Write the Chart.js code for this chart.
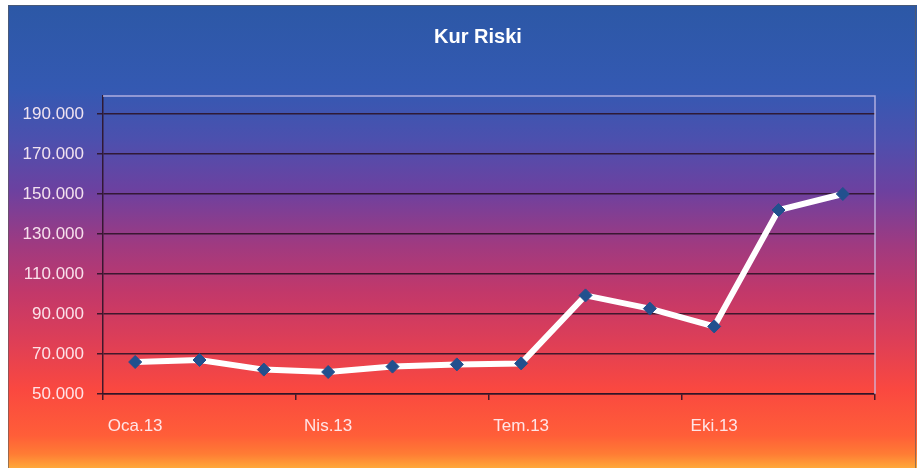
<!DOCTYPE html>
<html>
<head>
<meta charset="utf-8">
<script src="https://cdn.jsdelivr.net/npm/chart.js@4"></script>
<style>
  html, body { margin: 0; padding: 0; background: #fff; }
  #wrap { width: 917px; height: 468px; position: relative; }
</style>
</head>
<body>
<div id="wrap"><canvas id="myChart" width="917" height="468"></canvas></div>
<script>
const months = ['Oca.13', 'Şub.13', 'Mar.13', 'Nis.13', 'May.13', 'Haz.13',
                'Tem.13', 'Ağu.13', 'Eyl.13', 'Eki.13', 'Kas.13', 'Ara.13'];
const kurRiski = [66000, 67000, 62200, 61000, 63700, 64800, 65300, 99300, 92700, 83800, 142000, 150000];
const yTicks = [50000, 70000, 90000, 110000, 130000, 150000, 170000, 190000];

const darkLine = 'rgba(45, 20, 40, 0.9)';

// gradient background + frame + title
const backdrop = {
  id: 'backdrop',
  beforeDraw(chart) {
    const c = chart.ctx;
    c.save();
    c.fillStyle = '#fff';
    c.fillRect(0, 0, chart.width, chart.height);
    const g = c.createLinearGradient(0, 5, 0, 468);
    g.addColorStop(0.00, '#2c58a6');
    g.addColorStop(0.18, '#3459b2');
    g.addColorStop(0.29, '#4c50ae');
    g.addColorStop(0.40, '#6c41a0');
    g.addColorStop(0.52, '#a03a80');
    g.addColorStop(0.62, '#c2386a');
    g.addColorStop(0.72, '#dc3e58');
    g.addColorStop(0.83, '#fa4840');
    g.addColorStop(0.93, '#ff5e38');
    g.addColorStop(0.97, '#ff7c34');
    g.addColorStop(1.00, '#ffa83a');
    c.fillStyle = g;
    c.fillRect(8, 5, 909, 463);
    c.strokeStyle = 'rgba(90, 90, 90, 0.6)';
    c.lineWidth = 1;
    c.strokeRect(8.5, 5.5, 907, 470);
    c.restore();
  },
  beforeDatasetsDraw(chart) {
    const a = chart.chartArea;
    const c = chart.ctx;
    c.save();
    c.strokeStyle = 'rgba(205, 195, 235, 0.8)';
    c.lineWidth = 1.5;
    c.beginPath();
    c.moveTo(a.left, a.top);
    c.lineTo(a.right, a.top);
    c.lineTo(a.right, a.bottom);
    c.stroke();
    c.restore();
  },
  afterDraw(chart) {
    const c = chart.ctx;
    c.save();
    c.fillStyle = '#fff';
    c.font = 'bold 20px "Liberation Sans", Arial, sans-serif';
    c.textAlign = 'center';
    c.textBaseline = 'middle';
    c.fillText('Kur Riski', 478, 37);
    c.restore();
  }
};

const ctx = document.getElementById('myChart').getContext('2d');

let chart = new Chart(ctx, {
  type: 'line',
  data: {
    labels: months,
    datasets: [{
      label: 'Kur Riski',
      data: kurRiski,
      borderColor: '#ffffff',
      borderWidth: 6,
      tension: 0,
      pointStyle: 'rectRot',
      pointRadius: 6.5,
      pointHoverRadius: 6.5,
      pointBackgroundColor: '#22508e',
      pointBorderColor: '#22508e',
      pointBorderWidth: 1
    }]
  },
  options: {
    responsive: false,
    animation: false,
    layout: { padding: { left: 0, top: 96, right: 42, bottom: 0 } },
    plugins: {
      legend: { display: false },
      title: { display: false },
      tooltip: { enabled: false }
    },
    scales: {
      x: {
        offset: true,
        afterFit(s) { s.height = 74; },
        grid: {
          offset: true,
          drawOnChartArea: false,
          drawTicks: true,
          tickLength: 6,
          lineWidth: 1.5,
          tickColor: c => (c.index === undefined || c.index % 3 === 0) ? darkLine : 'rgba(0,0,0,0)'
        },
        border: { display: true, color: darkLine, width: 1.5 },
        ticks: {
          autoSkip: false,
          maxRotation: 0,
          padding: 16,
          color: 'rgba(255, 240, 245, 0.92)',
          font: { family: '"Liberation Sans", Arial, sans-serif', size: 17 },
          callback: function (v, i) { return i % 3 === 0 ? months[i] : ''; }
        }
      },
      y: {
        min: 50000,
        max: 199000,
        afterFit(s) { s.width = 103; },
        afterBuildTicks(s) { s.ticks = yTicks.map(v => ({ value: v })); },
        grid: {
          color: darkLine,
          lineWidth: 1.5,
          tickLength: 6,
          tickColor: darkLine
        },
        border: { display: true, color: darkLine, width: 1.5 },
        ticks: {
          padding: 13,
          color: 'rgba(255, 240, 245, 0.92)',
          font: { family: '"Liberation Sans", Arial, sans-serif', size: 17 },
          callback: v => v.toLocaleString('de-DE', { minimumFractionDigits: 0 }).replace(',', '.')
        }
      }
    }
  },
  plugins: [backdrop]
});
</script>
</body>
</html>
